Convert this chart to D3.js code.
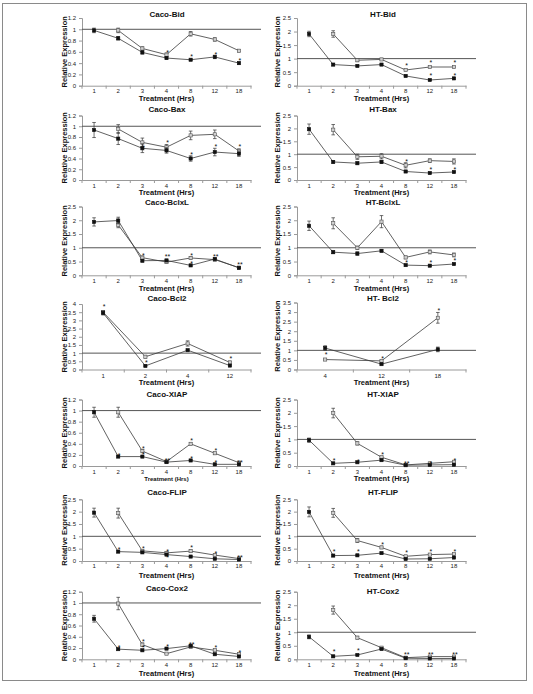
<!DOCTYPE html>
<html><head><meta charset="utf-8">
<script src="https://cdn.jsdelivr.net/npm/d3@7"></script>
<style>body{margin:0;background:#fff;} svg{display:block;font-family:"Liberation Sans",Arial,sans-serif;}</style>
</head><body><svg id="c" width="533" height="694"></svg>
<script>
// ---------- categories & ticks ----------
const hours = ["1","2","3","4","8","12","18"];
const hoursCacoBcl2 = ["1","2","4","12"];
const hoursHtBcl2 = ["4","12","18"];
const ticks12 = [0,0.2,0.4,0.6,0.8,1,1.2];
const ticks25 = [0,0.5,1,1.5,2,2.5];
const ticks35 = [0,0.5,1,1.5,2,2.5,3,3.5];
const ticks40 = [0,0.5,1,1.5,2,2.5,3,3.5,4];

// ---------- Caco-Bid ----------
const cacoBidA = [0.98,0.84,0.59,0.49,0.46,0.51,0.40];
const cacoBidAErr = [0.04,0.03,0.03,0.02,0.01,0.03,0.02];
const cacoBidB = [null,0.98,0.66,0.55,0.92,0.82,0.62];
const cacoBidBErr = [0,0.04,0.03,0.03,0.04,0.03,0.02];
const cacoBidStars = [["4",0.60,"*"],["8",0.53,"*"],["12",0.57,"*"],["18",0.45,"*"]];
// ---------- HT-Bid ----------
const htBidA = [1.91,0.78,0.73,0.78,0.36,0.21,0.27];
const htBidAErr = [0.10,0.04,0.03,0.03,0.03,0.02,0.03];
const htBidB = [null,1.91,0.94,0.97,0.58,0.69,0.69];
const htBidBErr = [0,0.12,0.05,0.04,0.03,0.03,0.03];
const htBidStars = [["8",0.78,"*"],["12",0.86,"*"],["12",0.38,"*"],["18",0.86,"*"],["18",0.38,"*"]];
// ---------- Caco-Bax ----------
const cacoBaxA = [0.93,0.77,0.59,0.55,0.40,0.52,0.49];
const cacoBaxAErr = [0.14,0.11,0.08,0.05,0.05,0.07,0.05];
const cacoBaxB = [null,0.95,0.70,0.61,0.83,0.85,0.54];
const cacoBaxBErr = [0,0.08,0.08,0.05,0.08,0.08,0.04];
const cacoBaxStars = [["3",0.62,"*"],["4",0.70,"*"],["8",0.49,"*"],["12",0.64,"*"],["18",0.63,"*"]];
// ---------- HT-Bax ----------
const htBaxA = [1.97,0.70,0.65,0.70,0.33,0.27,0.31];
const htBaxAErr = [0.20,0.05,0.05,0.06,0.04,0.03,0.03];
const htBaxB = [null,1.95,0.90,0.92,0.57,0.75,0.72];
const htBaxBErr = [0,0.20,0.10,0.10,0.10,0.07,0.10];
const htBaxStars = [["8",0.75,"*"],["12",0.42,"*"],["18",0.42,"*"]];
// ---------- Caco-BclxL ----------
const cacoBclxlA = [1.94,1.99,0.53,0.54,0.36,0.59,0.27];
const cacoBclxlAErr = [0.15,0.12,0.04,0.04,0.03,0.04,0.03];
const cacoBclxlB = [null,1.83,0.64,0.48,0.63,0.57,0.28];
const cacoBclxlBErr = [0,0.10,0.06,0.05,0.05,0.05,0.03];
const cacoBclxlStars = [["3",0.75,"*"],["4",0.70,"**"],["8",0.74,"*"],["8",0.45,"*"],["12",0.70,"**"],["18",0.40,"**"]];
// ---------- HT-BclxL ----------
const htBclxlA = [1.80,0.84,0.79,0.89,0.37,0.35,0.41];
const htBclxlAErr = [0.17,0.05,0.06,0.04,0.03,0.03,0.03];
const htBclxlB = [null,1.89,1.00,1.95,0.65,0.85,0.74];
const htBclxlBErr = [0,0.20,0.06,0.22,0.05,0.07,0.07];
const htBclxlStars = [["8",0.50,"*"],["12",0.48,"*"],["18",0.55,"*"]];
// ---------- Caco-Bcl2 ----------
const cacoBcl2A = [3.45,0.22,1.18,0.24];
const cacoBcl2AErr = [0.12,0.05,0.05,0.04];
const cacoBcl2B = [3.50,0.78,1.59,0.43];
const cacoBcl2BErr = [0.10,0.08,0.16,0.08];
const cacoBcl2Stars = [["1",3.85,"*"],["2",0.45,"*"],["12",0.72,"*"]];
// ---------- HT-Bcl2 ----------
const htBcl2A = [1.12,0.28,1.05];
const htBcl2AErr = [0.12,0.03,0.12];
const htBcl2B = [0.52,0.45,2.70];
const htBcl2BErr = [0.03,0.03,0.28];
const htBcl2Stars = [["4",0.80,"*"],["12",0.62,"*"],["18",3.12,"*"]];
// ---------- Caco-XIAP ----------
const cacoXiapA = [0.97,0.17,0.17,0.07,0.10,0.03,0.03];
const cacoXiapAErr = [0.09,0.01,0.01,0.01,0.01,0.01,0.01];
const cacoXiapB = [null,0.97,0.27,0.08,0.40,0.23,0.06];
const cacoXiapBErr = [0,0.09,0.03,0.02,0.02,0.02,0.01];
const cacoXiapStars = [["2",0.20,"*"],["3",0.33,"*"],["3",0.22,"*"],["4",0.10,"**"],["8",0.47,"*"],["8",0.15,"*"],["12",0.28,"*"],["12",0.08,"*"],["18",0.08,"**"]];
// ---------- HT-XIAP ----------
const htXiapA = [0.97,0.10,0.14,0.22,0.03,0.04,0.05];
const htXiapAErr = [0.08,0.02,0.02,0.03,0.01,0.01,0.01];
const htXiapB = [null,1.99,0.85,0.33,0.04,0.10,0.16];
const htXiapBErr = [0,0.18,0.06,0.03,0.01,0.02,0.02];
const htXiapStars = [["2",0.22,"*"],["3",0.20,"*"],["4",0.45,"*"],["8",0.10,"**"],["12",0.12,"*"],["18",0.24,"*"]];
// ---------- Caco-FLIP ----------
const cacoFlipA = [1.96,0.38,0.35,0.26,0.18,0.09,0.06];
const cacoFlipAErr = [0.18,0.03,0.03,0.03,0.02,0.02,0.02];
const cacoFlipB = [null,1.94,0.41,0.33,0.40,0.24,0.10];
const cacoFlipBErr = [0,0.20,0.04,0.05,0.05,0.04,0.03];
const cacoFlipStars = [["2",0.50,"*"],["3",0.52,"*"],["4",0.42,"*"],["4",0.15,"*"],["8",0.55,"*"],["12",0.32,"*"],["18",0.18,"**"]];
// ---------- HT-FLIP ----------
const htFlipA = [1.99,0.22,0.23,0.32,0.08,0.09,0.14];
const htFlipAErr = [0.20,0.03,0.02,0.03,0.02,0.02,0.02];
const htFlipB = [null,1.95,0.83,0.55,0.19,0.26,0.28];
const htFlipBErr = [0,0.18,0.08,0.05,0.03,0.03,0.03];
const htFlipStars = [["2",0.40,"*"],["3",0.42,"*"],["4",0.68,"*"],["8",0.35,"*"],["12",0.42,"*"],["18",0.42,"*"]];
// ---------- Caco-Cox2 ----------
const cacoCox2A = [0.72,0.18,0.16,0.19,0.24,0.09,0.05];
const cacoCox2AErr = [0.06,0.01,0.01,0.01,0.02,0.01,0.01];
const cacoCox2B = [null,0.99,0.26,0.10,0.22,0.16,0.09];
const cacoCox2BErr = [0,0.11,0.03,0.01,0.02,0.02,0.02];
const cacoCox2Stars = [["2",0.22,"*"],["3",0.33,"*"],["3",0.22,"*"],["4",0.24,"*"],["8",0.28,"**"],["12",0.22,"*"],["18",0.13,"*"]];
// ---------- HT-Cox2 ----------
const htCox2A = [0.83,0.11,0.16,0.38,0.04,0.03,0.03];
const htCox2AErr = [0.07,0.02,0.02,0.03,0.01,0.01,0.01];
const htCox2B = [null,1.82,0.80,0.43,0.06,0.10,0.10];
const htCox2BErr = [0,0.15,0.05,0.04,0.01,0.02,0.02];
const htCox2Stars = [["2",0.30,"*"],["3",0.35,"*"],["8",0.20,"**"],["12",0.20,"**"],["18",0.20,"**"]];

// ---------- layout ----------
const cols = [
  {x0:82, x1:251, refEnd:261, ylabX:65, titleX:167},
  {x0:297, x1:466, refEnd:476, ylabX:278, titleX:383}
];
const rows = [
  {title:15, top:18, bottom:85.7, labels:91.5, xtitle:99.5},
  {title:110, top:115.5, bottom:180, labels:186, xtitle:193.5},
  {title:203, top:206.5, bottom:275.3, labels:281.5, xtitle:289.5},
  {title:298.5, top:304, bottom:369.5, labels:376, xtitle:383.5},
  {title:395, top:399.5, bottom:466, labels:472, xtitle:479.5},
  {title:492.5, top:499.3, bottom:561, labels:566.5, xtitle:576.5},
  {title:589, top:591.7, bottom:659.3, labels:665.5, xtitle:674}
];

const panels = [
  {col:0,row:0,title:"Caco-Bid",cats:hours,ticks:ticks12,A:cacoBidA,Ae:cacoBidAErr,B:cacoBidB,Be:cacoBidBErr,stars:cacoBidStars},
  {col:1,row:0,title:"HT-Bid",cats:hours,ticks:ticks25,A:htBidA,Ae:htBidAErr,B:htBidB,Be:htBidBErr,stars:htBidStars},
  {col:0,row:1,title:"Caco-Bax",cats:hours,ticks:ticks12,A:cacoBaxA,Ae:cacoBaxAErr,B:cacoBaxB,Be:cacoBaxBErr,stars:cacoBaxStars},
  {col:1,row:1,title:"HT-Bax",cats:hours,ticks:ticks25,A:htBaxA,Ae:htBaxAErr,B:htBaxB,Be:htBaxBErr,stars:htBaxStars},
  {col:0,row:2,title:"Caco-BclxL",cats:hours,ticks:ticks25,A:cacoBclxlA,Ae:cacoBclxlAErr,B:cacoBclxlB,Be:cacoBclxlBErr,stars:cacoBclxlStars},
  {col:1,row:2,title:"HT-BclxL",cats:hours,ticks:ticks25,A:htBclxlA,Ae:htBclxlAErr,B:htBclxlB,Be:htBclxlBErr,stars:htBclxlStars},
  {col:0,row:3,title:"Caco-Bcl2",cats:hoursCacoBcl2,ticks:ticks40,A:cacoBcl2A,Ae:cacoBcl2AErr,B:cacoBcl2B,Be:cacoBcl2BErr,stars:cacoBcl2Stars},
  {col:1,row:3,title:"HT- Bcl2",cats:hoursHtBcl2,ticks:ticks35,A:htBcl2A,Ae:htBcl2AErr,B:htBcl2B,Be:htBcl2BErr,stars:htBcl2Stars,top:302.5},
  {col:0,row:4,title:"Caco-XIAP",cats:hours,ticks:ticks12,A:cacoXiapA,Ae:cacoXiapAErr,B:cacoXiapB,Be:cacoXiapBErr,stars:cacoXiapStars,smallX:true},
  {col:1,row:4,title:"HT-XIAP",cats:hours,ticks:ticks25,A:htXiapA,Ae:htXiapAErr,B:htXiapB,Be:htXiapBErr,stars:htXiapStars},
  {col:0,row:5,title:"Caco-FLIP",cats:hours,ticks:ticks25,A:cacoFlipA,Ae:cacoFlipAErr,B:cacoFlipB,Be:cacoFlipBErr,stars:cacoFlipStars},
  {col:1,row:5,title:"HT-FLIP",cats:hours,ticks:ticks25,A:htFlipA,Ae:htFlipAErr,B:htFlipB,Be:htFlipBErr,stars:htFlipStars},
  {col:0,row:6,title:"Caco-Cox2",cats:hours,ticks:ticks12,A:cacoCox2A,Ae:cacoCox2AErr,B:cacoCox2B,Be:cacoCox2BErr,stars:cacoCox2Stars},
  {col:1,row:6,title:"HT-Cox2",cats:hours,ticks:ticks25,A:htCox2A,Ae:htCox2AErr,B:htCox2B,Be:htCox2BErr,stars:htCox2Stars,titleY:592}
];

const svg = d3.select("#c");
svg.append("rect").attr("x",2.5).attr("y",3.5).attr("width",524).attr("height",677)
  .attr("fill","none").attr("stroke","#8a8a8a").attr("stroke-width",1);

const axisColor = "#9a9a9a", lineColor = "#3a3a3a", txt = "#222";

panels.forEach(p => {
  const c = cols[p.col], r = rows[p.row];
  const top = p.top || r.top;
  const g = svg.append("g");
  const x = d3.scaleBand().domain(p.cats).range([c.x0, c.x1]);
  const ymax = p.ticks[p.ticks.length-1];
  const y = d3.scaleLinear().domain([0, ymax]).range([r.bottom, top]);

  // y axis
  const ya = g.append("g").attr("transform",`translate(${c.x0},0)`)
    .call(d3.axisLeft(y).tickValues(p.ticks).tickSize(3).tickPadding(3).tickFormat(d => d3.format("~g")(d)));
  ya.select(".domain").attr("stroke",axisColor);
  ya.selectAll(".tick line").attr("stroke",axisColor);
  ya.selectAll(".tick text").attr("font-size",6).attr("fill",txt).attr("font-family",null);

  // x axis
  const xa = g.append("g").attr("transform",`translate(0,${r.bottom})`)
    .call(d3.axisBottom(x).tickSize(0).tickPadding(0));
  xa.select(".domain").attr("stroke",axisColor);
  xa.selectAll(".tick text").attr("font-size",6).attr("fill",txt).attr("font-family",null)
    .attr("dy",null).attr("y", r.labels - r.bottom).attr("dominant-baseline","middle");
  const bounds = p.cats.map(d => x(d)).concat([c.x1]);
  g.selectAll(".xb").data(bounds).join("line")
    .attr("x1",d=>d).attr("x2",d=>d).attr("y1",r.bottom).attr("y2",r.bottom+3)
    .attr("stroke",axisColor);

  // reference line at 1
  g.append("line").attr("x1",c.x0).attr("x2",c.refEnd).attr("y1",y(1)).attr("y2",y(1))
    .attr("stroke","#555").attr("stroke-width",1);

  const cx = d => x(d) + x.bandwidth()/2;
  const mk = (vals, errs) => p.cats.map((k,i)=>({k, v:vals[i], e:errs[i]})).filter(d => d.v != null);
  const dA = mk(p.A, p.Ae), dB = mk(p.B, p.Be);
  const line = d3.line().x(d=>cx(d.k)).y(d=>y(d.v));

  [[dB,"B"],[dA,"A"]].forEach(([data,s]) => {
    g.append("path").datum(data).attr("d",line).attr("fill","none")
      .attr("stroke",lineColor).attr("stroke-width",0.8);
  });
  [[dB,"B"],[dA,"A"]].forEach(([data,s]) => {
    const eg = g.append("g").attr("stroke","#333").attr("stroke-width",0.7);
    data.filter(d=>d.e>0).forEach(d => {
      eg.append("line").attr("x1",cx(d.k)).attr("x2",cx(d.k)).attr("y1",y(d.v-d.e)).attr("y2",y(d.v+d.e));
      [d.v-d.e, d.v+d.e].forEach(v => eg.append("line").attr("x1",cx(d.k)-1.8).attr("x2",cx(d.k)+1.8).attr("y1",y(v)).attr("y2",y(v)));
    });
    g.selectAll(".m"+s).data(data).join("rect")
      .attr("x",d=>cx(d.k)-1.6).attr("y",d=>y(d.v)-1.6).attr("width",3.2).attr("height",3.2)
      .attr("fill", s==="A" ? "#111" : "#d0d0d0").attr("stroke", s==="A" ? "#111" : "#555").attr("stroke-width",0.6);
  });

  // significance marks
  g.selectAll(".star").data(p.stars).join("text")
    .attr("x",d=>cx(d[0])+1).attr("y",d=>y(d[1])+3).attr("text-anchor","middle")
    .attr("font-size",7).attr("fill","#111").text(d=>d[2]);

  // titles
  g.append("text").attr("x",c.titleX).attr("y",p.titleY || r.title).attr("dominant-baseline","middle")
    .attr("text-anchor","middle").attr("font-size",8).attr("font-weight","bold").attr("fill","#111").text(p.title);
  g.append("text").attr("x",(c.x0+c.x1)/2).attr("y",r.xtitle).attr("dominant-baseline","middle")
    .attr("text-anchor","middle").attr("font-size",p.smallX?6:7.5).attr("font-weight","bold").attr("fill","#111").text("Treatment (Hrs)");
  g.append("text").attr("transform",`translate(${c.ylabX},${(top+r.bottom)/2}) rotate(-90)`)
    .attr("dominant-baseline","middle").attr("text-anchor","middle").attr("font-size",7.5)
    .attr("font-weight","bold").attr("fill","#111").text("Relative Expression");
});
</script></body></html>
